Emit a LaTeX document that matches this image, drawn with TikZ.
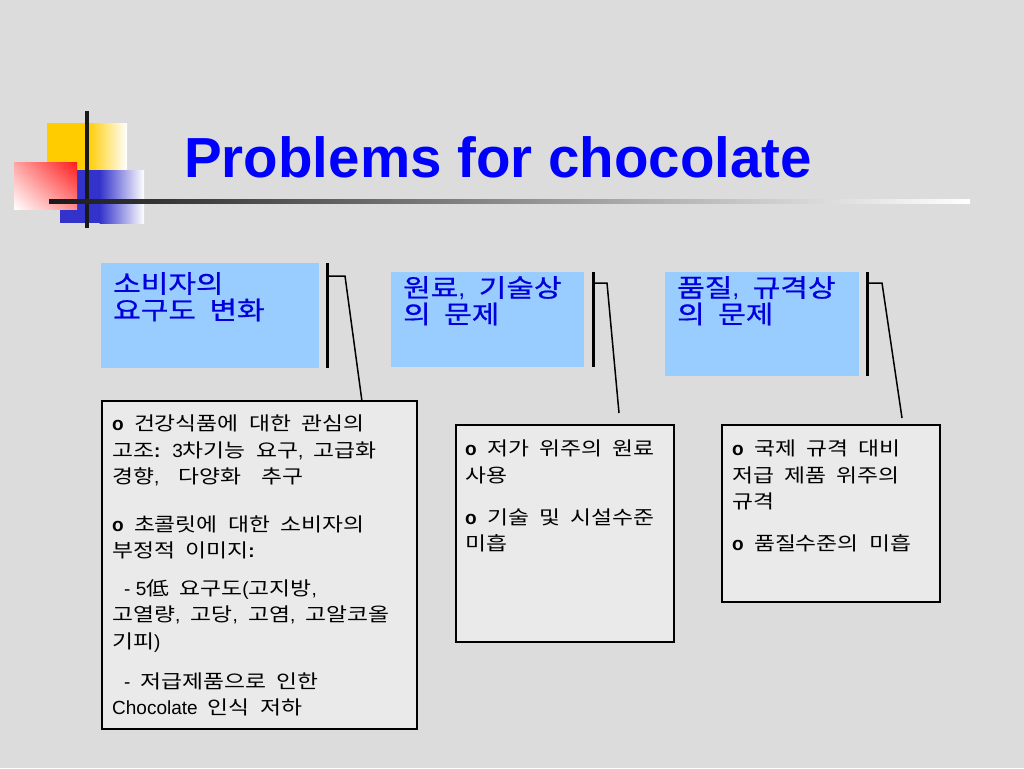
\documentclass[tikz,border=0pt]{standalone}
\usepackage{fontspec}
\setmainfont{Noto Sans CJK KR}[FakeStretch=1.2,WordSpace=2]
\newfontfamily\lat{Liberation Sans}
\usetikzlibrary{shadings}
\definecolor{slidebg}{HTML}{DCDCDC}
\definecolor{boxfill}{HTML}{EAEAEA}
\definecolor{headfill}{HTML}{99CCFF}
\definecolor{headblue}{HTML}{0000DD}
\definecolor{titleblue}{HTML}{0000FF}
\definecolor{logoyellow}{HTML}{FFCC00}
\definecolor{logoblue}{HTML}{3333CC}
\definecolor{logored}{HTML}{FF1A1A}
\newcommand{\bo}{{\lat\bfseries o}}
\newcommand{\co}{{\lat\bfseries :}}
\begin{document}
\begin{tikzpicture}[x=1pt,y=-1pt,
	headbox/.style={fill=headfill,anchor=north west,inner sep=0pt},
	detbox/.style={draw=black,line width=1.8pt,fill=boxfill,anchor=north west,inner sep=0pt},
	headtext/.style={anchor=north west,inner sep=0pt,align=left,text=headblue,font=\fontsize{25}{26.5}\selectfont\addfontfeatures{FakeBold=0.7}},
	bodytext/.style={anchor=north west,inner sep=0pt,align=left,font=\fontsize{19}{26.5}\selectfont},
	bar/.style={line width=2.5pt,black},
	link/.style={line width=1.5pt,black}]
		\fill[slidebg](0,0) rectangle (1024,768);
		\useasboundingbox(0,0) rectangle (1024,768);
		
		\fill[logoyellow](47,123) rectangle (88,186);
		\shade[left color=logoyellow,right color=white](87.5,123) rectangle (127,186);
		\fill[logoblue](60,170) rectangle (100,223);
		\shade[left color=logoblue,right color=white](99.5,170) rectangle (144,223);
		\shade[upper right=logored,upper left=logored!40!white,lower right=logored!50!white,lower left=white](14,162) rectangle (77,209);
		\draw[line width=4pt][black!90](87,111)--(87,228);
		\shade[left color=black!90,right color=white](49,199) rectangle (970,203);
		
		\node[anchor=base west,inner sep=0pt,text=titleblue,font=\lat\bfseries\fontsize{56.5}{60}\selectfont] (title) at (184,177) {Problems for chocolate};
		
		\node[headbox,minimum width=218pt,minimum height=105pt] (hdr1) at (101,263) {};
		\node[headbox,minimum width=193pt,minimum height=95pt] (hdr2) at (391,272) {};
		\node[headbox,minimum width=194pt,minimum height=104pt] (hdr3) at (665,272) {};
		\node[headtext] (hdr1t) at (113,272) {소비자의\\요구도 변화};
		\node[headtext] (hdr2t) at (403,276) {원료{\lat,} 기술상\\의 문제};
		\node[headtext] (hdr3t) at (677,276) {품질{\lat,} 규격상\\의 문제};
		
		\node[detbox,minimum width=315pt,minimum height=328pt] (det1) at (101,400) {};
		\node[detbox,minimum width=218pt,minimum height=217pt] (det2) at (455,424) {};
		\node[detbox,minimum width=218pt,minimum height=177pt] (det3) at (721,424) {};
		
		\node[bodytext] (det1t) at (112,415) {\bo{} 건강식품에 대한 관심의\\
			고조\co{} {\lat 3}차기능 요구{\lat,} 고급화\\
			경향{\lat,}\quad 다양화\ \ 추구\\[21pt]
			\bo{} 초콜릿에 대한 소비자의\\
			부정적 이미지\co\\[11pt]
			\hspace*{12pt}{\lat - 5}低 요구도{\lat(}고지방{\lat,}\\
			고열량{\lat,} 고당{\lat,} 고염{\lat,} 고알코올\\
			기피{\lat)}\\[13.5pt]
			\hspace*{12pt}{\lat -} 저급제품으로 인한\\
			{\lat Chocolate} 인식 저하};
		\node[bodytext] (det2t) at (465,440) {\bo{} 저가 위주의 원료\\
			사용\\[15.5pt]
			\bo{} 기술 및 시설수준\\
			미흡};
		\node[bodytext] (det3t) at (732,440) {\bo{} 국제 규격 대비\\
			저급 제품 위주의\\
			규격\\[15.5pt]
			\bo{} 품질수준의 미흡};
		
		\coordinate (k1) at (345,276);
		\coordinate (k2) at (607,283);
		\coordinate (k3) at (882,283);
		\coordinate (e2) at (619,413);
		\coordinate (e3) at (902,418);
		
		\draw[bar]([xshift=8pt]hdr1.north east)--([xshift=8pt]hdr1.south east);
		\draw[bar]([xshift=9pt]hdr2.north east)--([xshift=9pt]hdr2.south east);
		\draw[bar]([xshift=8pt]hdr3.north east)--([xshift=8pt]hdr3.south east);
		
		\draw[link]([xshift=8pt,yshift=-13pt]hdr1.north east)--(k1)--([xshift=-56pt]det1.north east);
		\draw[link]([xshift=9pt,yshift=-11pt]hdr2.north east)--(k2)--(e2);
		\draw[link]([xshift=8pt,yshift=-11pt]hdr3.north east)--(k3)--(e3);
		
\end{tikzpicture}
\end{document}
